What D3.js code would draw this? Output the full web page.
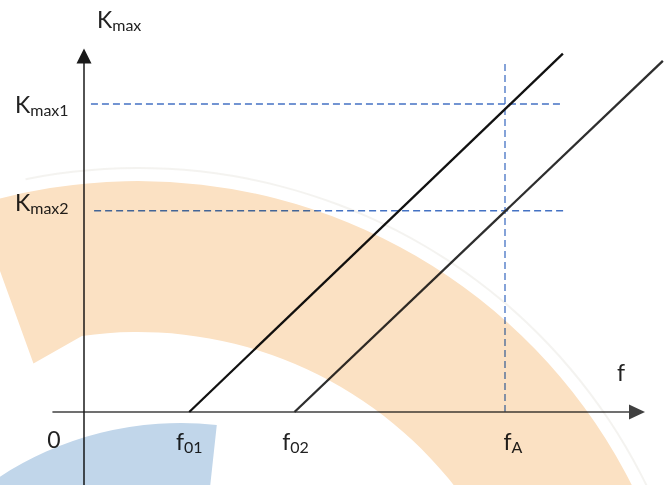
<!DOCTYPE html>
<html>
<head>
<meta charset="utf-8">
<script src="https://cdn.jsdelivr.net/npm/d3@7"></script>
<style>
  html, body { margin: 0; padding: 0; background: #fff; }
  svg { display: block; font-family: Lato, "Noto Sans", sans-serif; }
</style>
</head>
<body>
<div id="chart"></div>
<script>
// values (f on the x axis, Kmax on the y axis)
var fTickValues = [5, 10, 20];
var fTickSubs = ["01", "02", "A"];
var lineStartF = [5, 10];
var lineEndF = [22.75, 27.5];
var lineEndK = [17.45, 17.1];
var kmaxValues = [15, 9.8];
var kmaxSubs = ["max1", "max2"];
var kmaxDashFrom = [0.33, 0.48];
var kmaxDashTo = [22.75, 22.95];
var fADashTop = 16.95;
var xAxisExtent = [-1.5, 26.65];
var yAxisExtent = [-3.6, 17.7];

var width = 664, height = 485;

var svg = d3.select("#chart").append("svg")
    .attr("width", width)
    .attr("height", height);

svg.append("rect").attr("width", width).attr("height", height).attr("fill", "#fff");

var x = d3.scaleLinear().domain([0, 20]).range([84, 505]);
var y = d3.scaleLinear().domain([0, 15]).range([412, 104]);

var dashColor = "#4472c4";

// horizontal Kmax guides
svg.selectAll(".kdash")
    .data(kmaxValues)
    .enter().append("line")
    .attr("class", "kdash")
    .attr("x1", function (d, i) { return x(kmaxDashFrom[i]); })
    .attr("x2", function (d, i) { return x(kmaxDashTo[i]); })
    .attr("y1", function (d) { return y(d); })
    .attr("y2", function (d) { return y(d); })
    .attr("stroke", dashColor)
    .attr("stroke-width", 1.3)
    .attr("stroke-dasharray", "7,4");

// vertical fA guide
svg.append("line")
    .attr("x1", x(fTickValues[2])).attr("x2", x(fTickValues[2]))
    .attr("y1", y(fADashTop)).attr("y2", y(0))
    .attr("stroke", dashColor)
    .attr("stroke-width", 1.3)
    .attr("stroke-dasharray", "7,4");

// axes
svg.append("line")
    .attr("x1", x(xAxisExtent[0])).attr("x2", x(xAxisExtent[1]) - 10)
    .attr("y1", y(0)).attr("y2", y(0))
    .attr("stroke", "#404040").attr("stroke-width", 1.6);
svg.append("path")
    .attr("d", "M" + x(xAxisExtent[1]) + "," + y(0) + " l-16,-7.5 l0,15 z")
    .attr("fill", "#404040");

svg.append("line")
    .attr("x1", x(0)).attr("x2", x(0))
    .attr("y1", y(yAxisExtent[0])).attr("y2", y(yAxisExtent[1]) + 10)
    .attr("stroke", "#1a1a1a").attr("stroke-width", 1.5);
svg.append("path")
    .attr("d", "M" + x(0) + "," + y(yAxisExtent[1]) + " l-7.5,15 l15,0 z")
    .attr("fill", "#1a1a1a");

// the two Kmax(f) lines
var lineGen = d3.line()
    .x(function (d) { return x(d[0]); })
    .y(function (d) { return y(d[1]); });

svg.selectAll(".kline")
    .data(lineStartF.map(function (f0, i) { return [[f0, 0], [lineEndF[i], lineEndK[i]]]; }))
    .enter().append("path")
    .attr("class", "kline")
    .attr("d", lineGen)
    .attr("fill", "none")
    .attr("stroke", function (d, i) { return i === 0 ? "#111" : "#2e2e2e"; })
    .attr("stroke-width", 2.3);

// labels
var textColor = "#222";

function subLabel(sel, base, sub) {
    sel.append("tspan").text(base);
    sel.append("tspan").attr("font-size", 16).attr("dy", 3).text(sub);
}

var t = svg.append("text")
    .attr("x", x(0) + 13).attr("y", y(yAxisExtent[1]) - 21)
    .attr("font-size", 23).attr("fill", textColor);
subLabel(t, "K", "max");

svg.append("text")
    .attr("x", x(xAxisExtent[1]) - 28).attr("y", y(0) - 31)
    .attr("font-size", 23).attr("fill", textColor)
    .text("f");

svg.append("text")
    .attr("x", x(0) - 30).attr("y", y(0) + 36)
    .attr("text-anchor", "middle")
    .attr("font-size", 23).attr("fill", textColor)
    .text("0");

var fTickDx = [0, 1, 8];
fTickValues.forEach(function (f, i) {
    var lab = svg.append("text")
        .attr("x", x(f) + fTickDx[i]).attr("y", y(0) + 38)
        .attr("text-anchor", "middle")
        .attr("font-size", 23).attr("fill", textColor);
    subLabel(lab, "f", fTickSubs[i]);
});

var kLabelDy = [9, 0];
kmaxValues.forEach(function (k, i) {
    var lab = svg.append("text")
        .attr("x", 15).attr("y", y(k) + kLabelDy[i])
        .attr("font-size", 23).attr("fill", textColor);
    subLabel(lab, "K", kmaxSubs[i]);
});

// watermark arcs, multiplied over the drawing
var mark = svg.append("g").style("mix-blend-mode", "multiply");

mark.append("path")
    .attr("transform", "translate(181,755)")
    .attr("d", d3.arc()({ innerRadius: 150, outerRadius: 332, startAngle: -1.3, endAngle: 0.108 }))
    .attr("fill", "#c1d6ea");

mark.append("path")
    .attr("transform", "translate(138,734)")
    .attr("d", d3.arc()({ innerRadius: 565, outerRadius: 567, startAngle: -0.2, endAngle: 1.6 }))
    .attr("fill", "#ecebe6")
    .attr("opacity", 0.6);

// orange band with a barbed tail on the left
var polar = function (r, a) { return [r * Math.sin(a), -r * Math.cos(a)]; };
var band = d3.path();
var h = Math.PI / 2;
var c0 = polar(553, -0.297);
band.moveTo(c0[0], c0[1]);
band.arc(0, 0, 553, -0.297 - h, 1.9 - h);
band.arc(0, 0, 402, 1.9 - h, -0.14 - h, true);
var tip = polar(385, -0.275);
band.lineTo(tip[0], tip[1]);
band.closePath();

mark.append("path")
    .attr("transform", "translate(138,734)")
    .attr("d", band.toString())
    .attr("fill", "#fbe1c3");
</script>
</body>
</html>
